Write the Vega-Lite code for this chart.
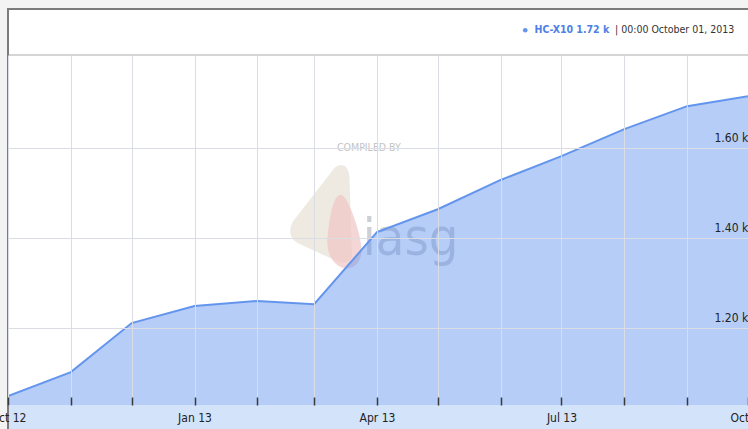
{
  "$schema": "https://vega.github.io/schema/vega-lite/v6.json",
  "width": 740,
  "height": 350,
  "autosize": {"type": "none"},
  "padding": {"left": 8, "top": 55, "right": 0, "bottom": 24},
  "background": "#f3f3f3",
  "config": {"view": {"stroke": null}},
  "layer": [
    {
      "data": {"values": [{}]},
      "mark": {"type": "rect", "fill": "#ffffff", "clip": false},
      "encoding": {
        "x": {"datum": {"year": 2012, "month": 10, "date": 1}, "type": "temporal"},
        "x2": {"datum": {"year": 2014, "month": 1, "date": 1}},
        "y": {"datum": 1908.9, "type": "quantitative"},
        "y2": {"datum": 950}
      }
    },
    {
      "data": {"values": [{}]},
      "mark": {"type": "rect", "fill": "#d2e3fa", "clip": false},
      "encoding": {
        "x": {"datum": {"year": 2012, "month": 10, "date": 1}, "type": "temporal"},
        "x2": {"datum": {"year": 2014, "month": 1, "date": 1}},
        "y": {"datum": 1028.9, "type": "quantitative"},
        "y2": {"datum": 950}
      }
    },
    {
      "data": {"values": [{}]},
      "mark": {"type": "rule", "stroke": "#d5d5d5", "strokeWidth": 2},
      "encoding": {"y": {"datum": 1806.7, "type": "quantitative"}}
    },
    {
      "data": {"values": [{}]},
      "mark": {"type": "point", "filled": true, "fill": "#ebe6dd", "opacity": 0.85, "strokeWidth": 0,
        "shape": "M0.25,-0.92 C0.4,-1.05 0.55,-0.95 0.55,-0.7 L0.6,0.85 C0.6,1 0.45,1.02 0.3,0.97 L-0.5,0.6 C-0.68,0.5 -0.68,0.3 -0.58,0.15 Z",
        "size": 9800},
      "encoding": {
        "x": {"datum": {"year": 2013, "month": 3, "date": 5}, "type": "temporal"},
        "y": {"datum": 1455, "type": "quantitative"}
      }
    },
    {
      "data": {"values": [{}]},
      "mark": {"type": "point", "filled": true, "fill": "#f0c4c4", "opacity": 0.7, "strokeWidth": 0,
        "shape": "M-0.1,-1 C0.1,-1 0.5,0.2 0.45,0.55 C0.4,0.95 0.1,1 -0.05,0.95 C-0.35,0.85 -0.5,0.5 -0.45,0.1 C-0.4,-0.4 -0.3,-1 -0.1,-1 Z",
        "size": 5625},
      "encoding": {
        "x": {"datum": {"year": 2013, "month": 3, "date": 16}, "type": "temporal"},
        "y": {"datum": 1413, "type": "quantitative"}
      }
    },
    {
      "data": {"values": [{}]},
      "mark": {"type": "text", "text": "COMPILED BY", "font": "DejaVu Sans Condensed, Liberation Sans, sans-serif", "fontSize": 10.5, "fill": "#c4c4c4", "align": "center", "baseline": "middle"},
      "encoding": {
        "x": {"datum": {"year": 2013, "month": 3, "date": 28}, "type": "temporal"},
        "y": {"datum": 1600, "type": "quantitative"}
      }
    },
    {
      "data": {"values": [{}]},
      "mark": {"type": "text", "text": "iasg", "font": "DejaVu Sans Condensed, Liberation Sans, sans-serif", "fontSize": 52, "fill": "#8f96a3", "opacity": 0.45, "align": "left", "baseline": "alphabetic"},
      "encoding": {
        "x": {"datum": {"year": 2013, "month": 3, "date": 25}, "type": "temporal"},
        "y": {"datum": 1362, "type": "quantitative"}
      }
    },
    {
      "data": {
        "values": [
          {"date": "2012-10-01T00:00:00", "value": 1049, "series": "HC-X10"},
          {"date": "2012-11-01T00:00:00", "value": 1102, "series": "HC-X10"},
          {"date": "2012-12-01T00:00:00", "value": 1211, "series": "HC-X10"},
          {"date": "2013-01-01T00:00:00", "value": 1249, "series": "HC-X10"},
          {"date": "2013-02-01T00:00:00", "value": 1260, "series": "HC-X10"},
          {"date": "2013-03-01T00:00:00", "value": 1253, "series": "HC-X10"},
          {"date": "2013-04-01T00:00:00", "value": 1413, "series": "HC-X10"},
          {"date": "2013-05-01T00:00:00", "value": 1464, "series": "HC-X10"},
          {"date": "2013-06-01T00:00:00", "value": 1529, "series": "HC-X10"},
          {"date": "2013-07-01T00:00:00", "value": 1582, "series": "HC-X10"},
          {"date": "2013-08-01T00:00:00", "value": 1642, "series": "HC-X10"},
          {"date": "2013-09-01T00:00:00", "value": 1693, "series": "HC-X10"},
          {"date": "2013-10-01T00:00:00", "value": 1715, "series": "HC-X10"}
        ]
      },
      "mark": {"type": "area", "clip": true, "fillOpacity": 0.47, "line": {"color": "#6495ed", "strokeWidth": 2}},
      "encoding": {
        "x": {
          "field": "date", "type": "temporal",
          "scale": {"domain": [{"year": 2012, "month": 10, "date": 1}, {"year": 2013, "month": 10, "date": 1}]},
          "axis": {
            "values": [
              {"year": 2012, "month": 10, "date": 1}, {"year": 2012, "month": 11, "date": 1}, {"year": 2012, "month": 12, "date": 1},
              {"year": 2013, "month": 1, "date": 1}, {"year": 2013, "month": 2, "date": 1}, {"year": 2013, "month": 3, "date": 1},
              {"year": 2013, "month": 4, "date": 1}, {"year": 2013, "month": 5, "date": 1}, {"year": 2013, "month": 6, "date": 1},
              {"year": 2013, "month": 7, "date": 1}, {"year": 2013, "month": 8, "date": 1}, {"year": 2013, "month": 9, "date": 1},
              {"year": 2013, "month": 10, "date": 1}
            ],
            "labelExpr": "month(datum.value) % 3 == 0 ? timeFormat(datum.value, '%b %y') : ''",
            "grid": true, "gridColor": "#dadde3", "gridWidth": 1,
            "ticks": true, "tickSize": -8, "tickColor": "#3a3a3a", "tickWidth": 1.5,
            "domain": false, "title": null, "zindex": 1,
            "labelFont": "DejaVu Sans Condensed, Liberation Sans, sans-serif", "labelFontSize": 12, "labelColor": "#222222",
            "labelPadding": 15, "labelOverlap": false, "labelFlush": false, "labelBound": false
          }
        },
        "y": {
          "field": "value", "type": "quantitative",
          "scale": {"domain": [1028.9, 1806.7], "nice": false, "zero": false},
          "axis": {
            "orient": "right", "values": [1200, 1400, 1600],
            "labelExpr": "format(datum.value / 1000, '.2f') + ' k'",
            "grid": true, "gridColor": "#dadde3", "ticks": false, "tickSize": 0, "domain": false,
            "labelAlign": "left", "labelPadding": -34, "labelBaseline": "alphabetic", "labelOffset": -7,
            "labelFont": "DejaVu Sans Condensed, Liberation Sans, sans-serif", "labelFontSize": 12, "labelColor": "#222222",
            "title": null, "zindex": 1
          }
        },
        "color": {
          "field": "series", "type": "nominal",
          "scale": {"range": ["#6495ed"]},
          "legend": {
            "orient": "none", "legendX": 512, "legendY": -30, "direction": "horizontal",
            "title": "|  00:00 October 01, 2013", "titleOrient": "right", "titlePadding": 6,
            "titleFont": "DejaVu Sans Condensed, Liberation Sans, sans-serif", "titleFontSize": 10.5, "titleFontWeight": "normal", "titleColor": "#333333",
            "labelExpr": "datum.label + ' 1.72 k'",
            "labelFont": "DejaVu Sans Condensed, Liberation Sans, sans-serif", "labelFontSize": 10.5, "labelFontWeight": "bold", "labelColor": "#4f80e6",
            "labelOffset": 4, "symbolType": "circle", "symbolSize": 22, "symbolOpacity": 1, "symbolStrokeWidth": 0
          }
        }
      }
    },
    {
      "data": {"values": [{}]},
      "mark": {"type": "rect", "fillOpacity": 0, "stroke": "#7b7b7b", "strokeWidth": 2, "clip": false},
      "encoding": {
        "x": {"datum": {"year": 2012, "month": 10, "date": 1}, "type": "temporal"},
        "x2": {"datum": {"year": 2014, "month": 1, "date": 1}},
        "y": {"datum": 1908.9, "type": "quantitative"},
        "y2": {"datum": 950}
      }
    }
  ]
}
